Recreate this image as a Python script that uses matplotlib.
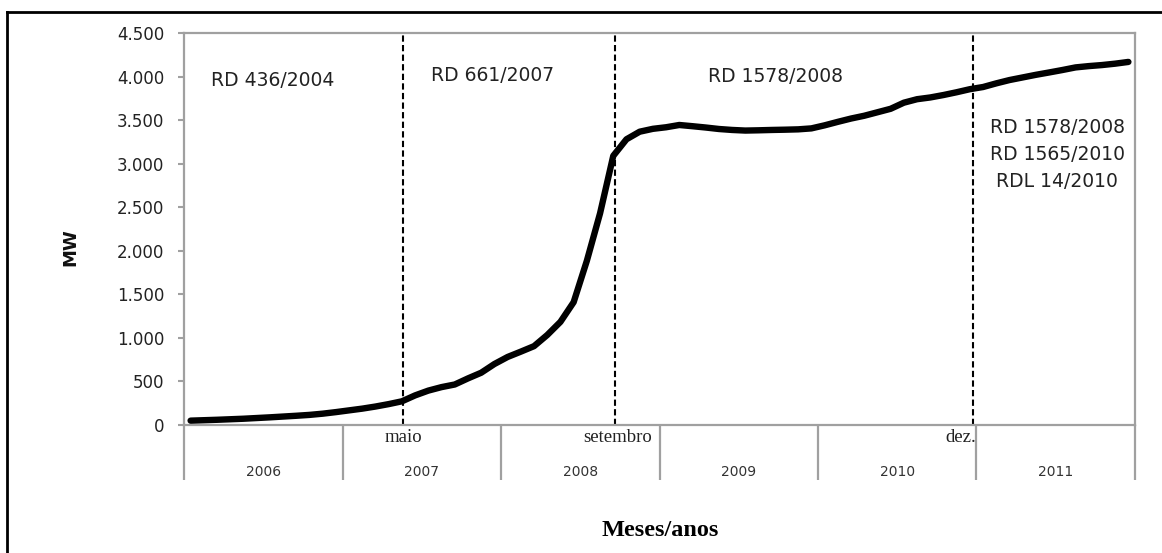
import matplotlib
matplotlib.use("Agg")
import matplotlib.pyplot as plt
from matplotlib.lines import Line2D
from matplotlib.ticker import FuncFormatter
import matplotlib.transforms as mtransforms

# ---------------- data ----------------
years = ["2006", "2007", "2008", "2009", "2010", "2011"]
months_per_year = 12
mw = [
    50, 55, 60, 66, 72, 80, 88, 97, 106, 116, 130, 148,            # 2006
    168, 188, 212, 240, 272, 340, 395, 435, 465, 535, 600, 700,    # 2007
    781, 842, 905, 1033, 1184, 1410, 1885, 2430, 3090, 3280, 3367, 3400,  # 2008
    3418, 3444, 3430, 3415, 3398, 3387, 3380, 3383, 3387, 3390, 3394, 3405,  # 2009
    3440, 3480, 3518, 3550, 3590, 3630, 3700, 3740, 3760, 3788, 3820, 3855,  # 2010
    3880, 3922, 3960, 3990, 4020, 4047, 4075, 4105, 4120, 4132, 4148, 4168,  # 2011
]
event_pos = [16.6, 32.6, 59.7]            # maio 2007, setembro 2008, dez. 2010 (month index)
event_labels = ["maio", "setembro", "dez."]
period_labels = ["RD 436/2004", "RD 661/2007", "RD 1578/2008"]
period_label_x = [2.05, 18.7, 39.7]
period_label_y = [3960, 4010, 4005]
last_period_labels = ["RD 1578/2008", "RD 1565/2010", "RDL 14/2010"]
last_period_y = [3420, 3105, 2790]
yticks = list(range(0, 4501, 500))

# ---------------- figure ----------------
W, H = 1162, 553
fig = plt.figure(figsize=(W / 100, H / 100), dpi=100)
ax = fig.add_axes([184 / W, (H - 425) / H, 951 / W, 392 / H])

n = len(mw)
x = [i + 0.5 for i in range(n)]
ax.plot(x, mw, color="black", lw=4.6, solid_capstyle="round", solid_joinstyle="round", zorder=3)

ax.set_xlim(0, len(years) * months_per_year)
ax.set_ylim(0, 4500)

for s in ax.spines.values():
    s.set_color("#a0a0a0")
    s.set_linewidth(1.6)

ax.set_yticks(yticks)
ax.yaxis.set_major_formatter(FuncFormatter(lambda v, p: f"{int(v):,}".replace(",", ".")))
ax.tick_params(axis="y", direction="out", length=4.5, width=1.5, color="#a0a0a0",
               labelsize=12, pad=9.5, labelcolor="#222222")
for lab in ax.get_yticklabels():
    lab.set_family("DejaVu Sans")
ax.set_xticks([])

# dashed event lines
for ev in event_pos:
    ax.axvline(ev, ymin=0, ymax=1, color="black", lw=1.5, ls=(0, (3, 1.6)), zorder=2)

# lower category axis (year dividers)
trans = mtransforms.blended_transform_factory(ax.transData, ax.transAxes)
bottom = -55 / 392
for k in range(len(years) + 1):
    xb = k * months_per_year
    ax.plot([xb, xb], [0, bottom], transform=trans, color="#a0a0a0", lw=1.6,
            clip_on=False, solid_capstyle="butt")
for k, yr in enumerate(years):
    ax.text(k * months_per_year + months_per_year / 2, -47 / 392, yr, transform=trans,
            ha="center", va="center", fontsize=10, color="#333333", family="DejaVu Sans")

# event month labels
ev_ha = ["center", "left", "right"]
ev_x = [event_pos[0], event_pos[1] - 2.35, event_pos[2] + 0.25]
for lab, xx, ha in zip(event_labels, ev_x, ev_ha):
    ax.text(xx, -12 / 392, lab, transform=trans, ha=ha, va="center", fontsize=13.5,
            family="Liberation Serif", color="#222222")

# period annotations
for lab, xx, yy in zip(period_labels, period_label_x, period_label_y):
    ax.text(xx, yy, lab, ha="left", va="center", fontsize=13.5, color="#222222",
            family="DejaVu Sans")
for lab, yy in zip(last_period_labels, last_period_y):
    ax.text(66.1, yy, lab, ha="center", va="center", fontsize=13.5, color="#222222",
            family="DejaVu Sans")

# axis titles
fig.text(70 / W, 1 - 247 / H, "MW", rotation=90, ha="center", va="center",
         fontsize=13, fontweight="bold", family="DejaVu Sans", color="#111111")
fig.text(660 / W, 1 - 530 / H, "Meses/anos", ha="center", va="center",
         fontsize=17.5, fontweight="bold", family="Liberation Serif", color="black")

# outer frame
fig.add_artist(Line2D([7 / W, 1.0], [1 - 12 / H, 1 - 12 / H], transform=fig.transFigure,
                      color="black", lw=2))
fig.add_artist(Line2D([7 / W, 7 / W], [1 - 12 / H, 0], transform=fig.transFigure,
                      color="black", lw=2))

fig.savefig("out.png", dpi=100)
